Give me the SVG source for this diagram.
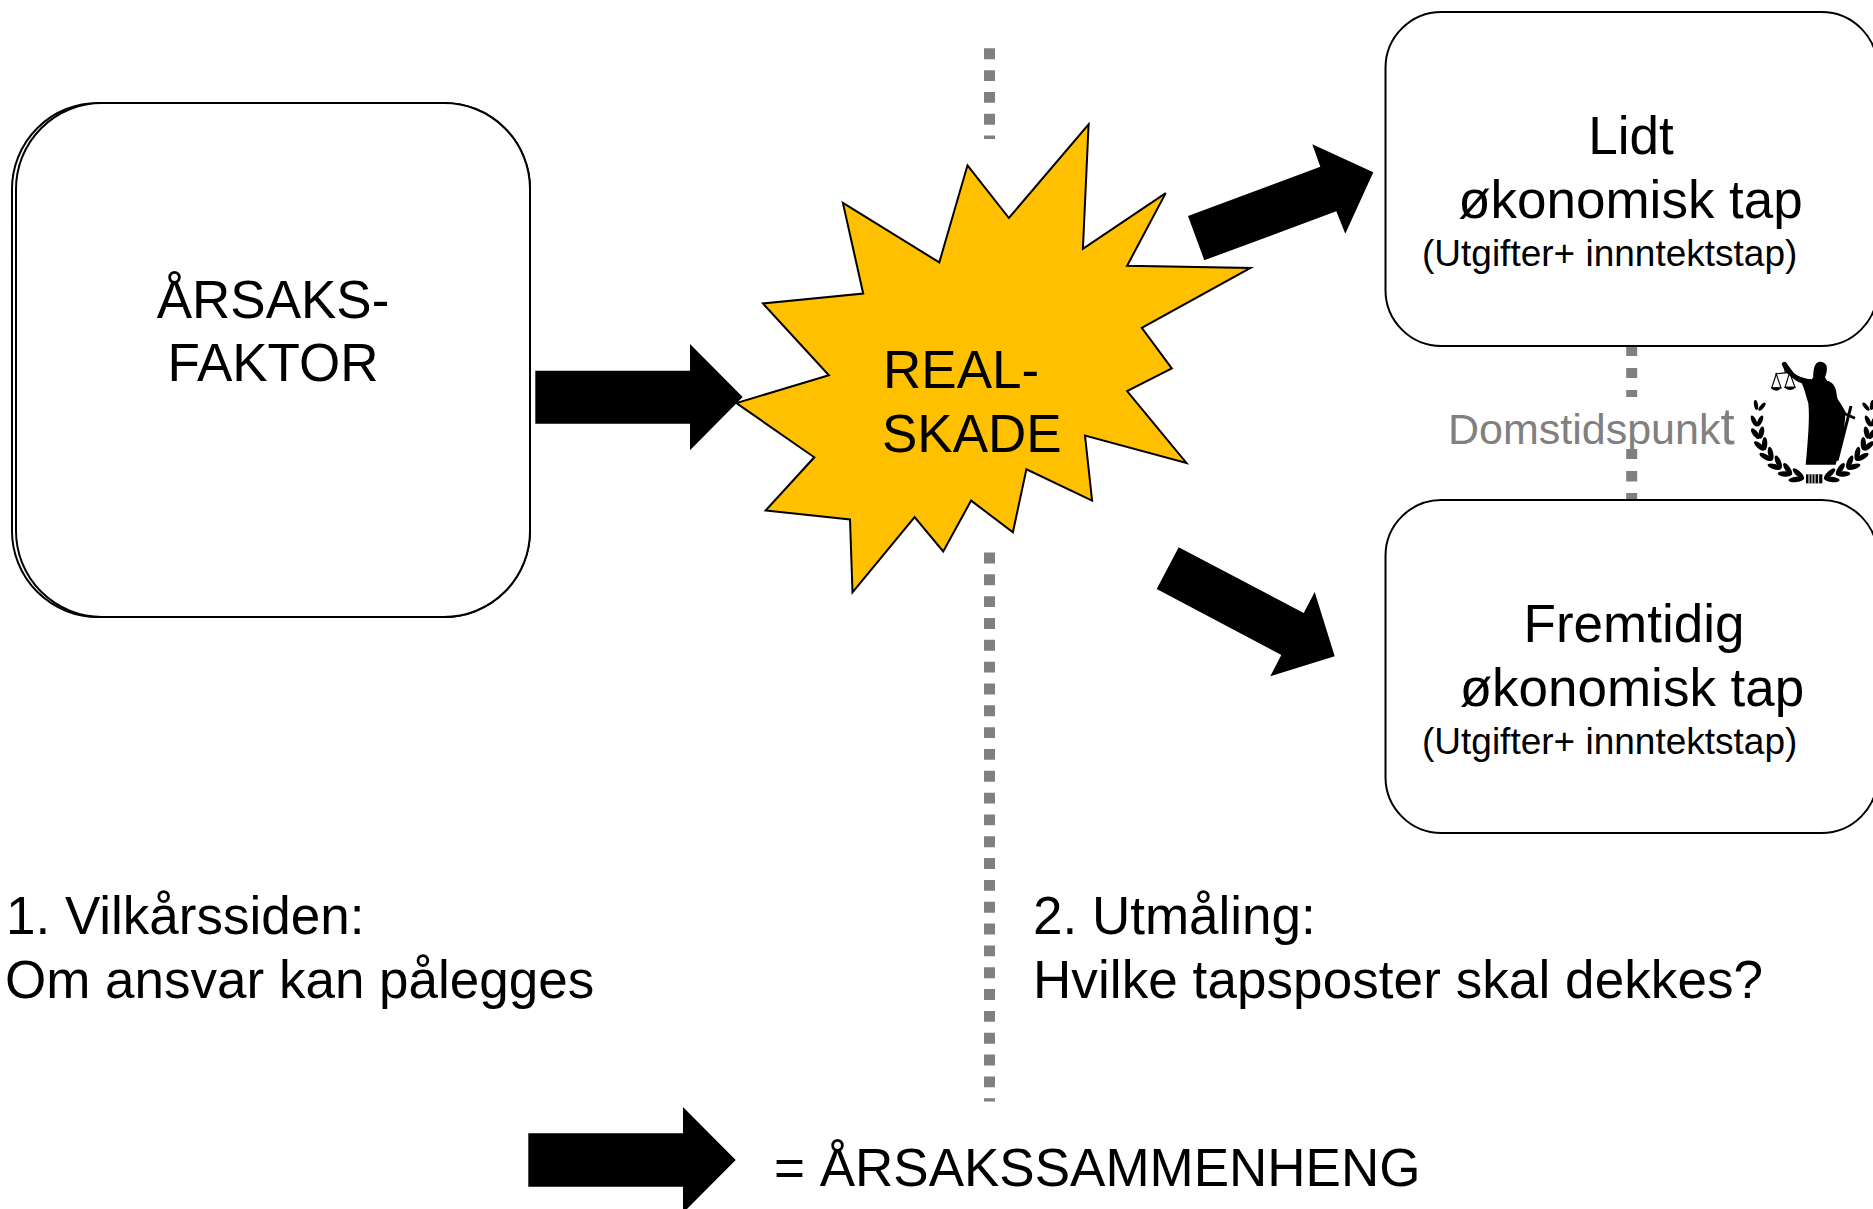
<svg xmlns="http://www.w3.org/2000/svg" xmlns:xlink="http://www.w3.org/1999/xlink" width="1873" height="1209" viewBox="0 0 1873 1209">
<style>
text{font-family:"Liberation Sans",Arial,sans-serif;fill:#000}
.l{font-size:53px}
.s{font-size:37px}
.box{fill:#fff;stroke:#000;stroke-width:2}
.arr{fill:#000;stroke:none}
.dash{stroke:#808080;stroke-width:11;fill:none}
.leaf{fill:#000}
</style>
<defs>
<g id="leaves">
<ellipse class="leaf" cx="27" cy="162" rx="15" ry="6" transform="rotate(80 27 162)"/>
<ellipse class="leaf" cx="45" cy="167" rx="15" ry="6" transform="rotate(130 45 167)"/>
<ellipse class="leaf" cx="21" cy="210" rx="18" ry="7" transform="rotate(65 21 210)"/>
<ellipse class="leaf" cx="39" cy="210" rx="18" ry="7" transform="rotate(115 39 210)"/>
<ellipse class="leaf" cx="25" cy="248" rx="19" ry="8" transform="rotate(53 25 248)"/>
<ellipse class="leaf" cx="43" cy="245" rx="19" ry="8" transform="rotate(103 43 245)"/>
<ellipse class="leaf" cx="37" cy="285" rx="20" ry="8" transform="rotate(41 37 285)"/>
<ellipse class="leaf" cx="53" cy="278" rx="20" ry="8" transform="rotate(91 53 278)"/>
<ellipse class="leaf" cx="56" cy="318" rx="21" ry="8" transform="rotate(29 56 318)"/>
<ellipse class="leaf" cx="71" cy="308" rx="21" ry="8" transform="rotate(79 71 308)"/>
<ellipse class="leaf" cx="82" cy="347" rx="21" ry="8" transform="rotate(17 82 347)"/>
<ellipse class="leaf" cx="94" cy="333" rx="21" ry="8" transform="rotate(67 94 333)"/>
<ellipse class="leaf" cx="113" cy="369" rx="21" ry="8" transform="rotate(5 113 369)"/>
<ellipse class="leaf" cx="122" cy="354" rx="21" ry="8" transform="rotate(55 122 354)"/>
<ellipse class="leaf" cx="148" cy="385" rx="24" ry="8" transform="rotate(-7 148 385)"/>
<ellipse class="leaf" cx="154" cy="368" rx="22" ry="8" transform="rotate(43 154 368)"/>
</g>
</defs>
<g id="connectors">
<path class="dash" d="M989.5 48.3V139" stroke-dasharray="10.9 10.93"/>
<path class="dash" d="M989.5 552.5V1101.5" stroke-dasharray="10.9 10.93"/>
<path class="dash" d="M1631.7 346V356M1631.7 368V378M1631.7 390V397M1631.7 449V459M1631.7 471V481.5M1631.7 493V500"/>
<polygon id="arrow-cause" class="arr" points="535.3,370.7 690,370.7 690,344 742.7,397 690,450.3 690,423.7 535.3,423.7"/>
<polygon id="arrow-up" class="arr" points="1188,216 1204.3,260.3 1336.3,211.3 1345.3,233.7 1373.3,172.3 1312.3,144.3 1320.3,166.7"/>
<polygon id="arrow-down" class="arr" points="1178.7,547.3 1156.7,589 1281.3,655 1270.3,676.3 1334.7,656.3 1314.7,592 1303.7,613"/>
<polygon id="arrow-legend" class="arr" points="528.3,1133.3 683,1133.3 683,1107 735.7,1160 683,1213 683,1186.7 528.3,1186.7"/>
</g>
<g id="node-arsaksfaktor">
<rect class="box" x="12" y="103" width="518" height="514" rx="86"/>
<rect class="box" x="16" y="103" width="514" height="514" rx="86"/>
<text class="l" x="273" y="317.5" text-anchor="middle">ÅRSAKS-</text>
<text class="l" x="273" y="381" text-anchor="middle">FAKTOR</text>
</g>
<g id="node-realskade">
<polygon points="1088.6,124.3 1082.9,248.8 1165.7,193.1 1127.1,265.8 1250.5,268 1141.8,327.9 1171.8,368.5 1127.1,391.1 1186.4,462.9 1085,435.5 1092.1,500.6 1026.4,469.3 1012.9,532.2 971.1,500.6 943.2,551.4 914.6,517.1 852.5,592.4 850,519.4 765.7,510.4 814.3,457.3 736.4,403.1 828.9,375.3 762.9,303.4 863.2,293.6 842.9,202.9 939.3,262.4 967.5,165.3 1008.9,218" fill="#FFC000" stroke="#000" stroke-width="2"/>
<text class="l" x="883" y="388">REAL-</text>
<text class="l" x="882" y="452">SKADE</text>
</g>
<g id="node-lidt">
<rect class="box" x="1385.5" y="12" width="492" height="334" rx="56"/>
<text class="l" x="1631" y="154" text-anchor="middle">Lidt</text>
<text class="l" x="1630.5" y="218" text-anchor="middle">økonomisk tap</text>
<text class="s" x="1422" y="266">(Utgifter+ innntektstap)</text>
</g>
<g id="node-fremtidig">
<rect class="box" x="1385.5" y="500" width="492" height="333" rx="56"/>
<text class="l" x="1634" y="642" text-anchor="middle">Fremtidig</text>
<text class="l" x="1632" y="706" text-anchor="middle">økonomisk tap</text>
<text class="s" x="1422" y="754">(Utgifter+ innntektstap)</text>
</g>
<g id="node-domstidspunkt">
<text x="1448" y="444" font-size="43" style="fill:#808080">Domstidspunk<tspan font-size="51">t</tspan></text>
<g id="logo" transform="translate(1745 350) scale(.33333)">
<use href="#leaves" xlink:href="#leaves" transform="translate(6 3)"/>
<use href="#leaves" xlink:href="#leaves" transform="matrix(-1 0 0 1 408 3)"/>
<rect x="183" y="373" width="49" height="27" fill="#000"/>
<path d="M192 373V400M201 373V400M210 373V400M221 373V400" stroke="#fff" stroke-width="3"/>
<path d="M110 42C114 32 124 34 128 44L146 68C158 78 170 84 200 88L205 82C204 70 206 50 214 40C222 32 238 34 244 46C248 58 244 72 240 82L246 92C262 96 272 108 274 126C276 140 276 146 284 156L302 186L296 250L272 344L182 344L186 300C190 250 194 200 190 160C182 134 176 110 170 100C150 92 130 76 118 60Z" fill="#000"/>
<path d="M318 168L276 332" stroke="#000" stroke-width="9" fill="none"/>
<path d="M288 186L330 205" stroke="#000" stroke-width="8" fill="none"/>
<path d="M90 72L128 68M94 72L80 114L108 114ZM134 68L120 112L150 112ZM120 46V68" stroke="#000" stroke-width="3.5" fill="none"/>
<path d="M78 112H110Q104 122 94 122Q82 122 78 112ZM118 110H152Q146 120 136 120Q124 120 118 110Z" fill="#000"/>
</g>
</g>
<g id="labels">
<text class="l" x="6" y="934">1. Vilkårssiden:</text>
<text class="l" x="5" y="998">Om ansvar kan pålegges</text>
<text class="l" x="1033" y="934">2. Utmåling:</text>
<text class="l" x="1033" y="998" textLength="730">Hvilke tapsposter skal dekkes?</text>
<text class="l" x="774" y="1186">= ÅRSAKSSAMMENHENG</text>
</g>
</svg>
